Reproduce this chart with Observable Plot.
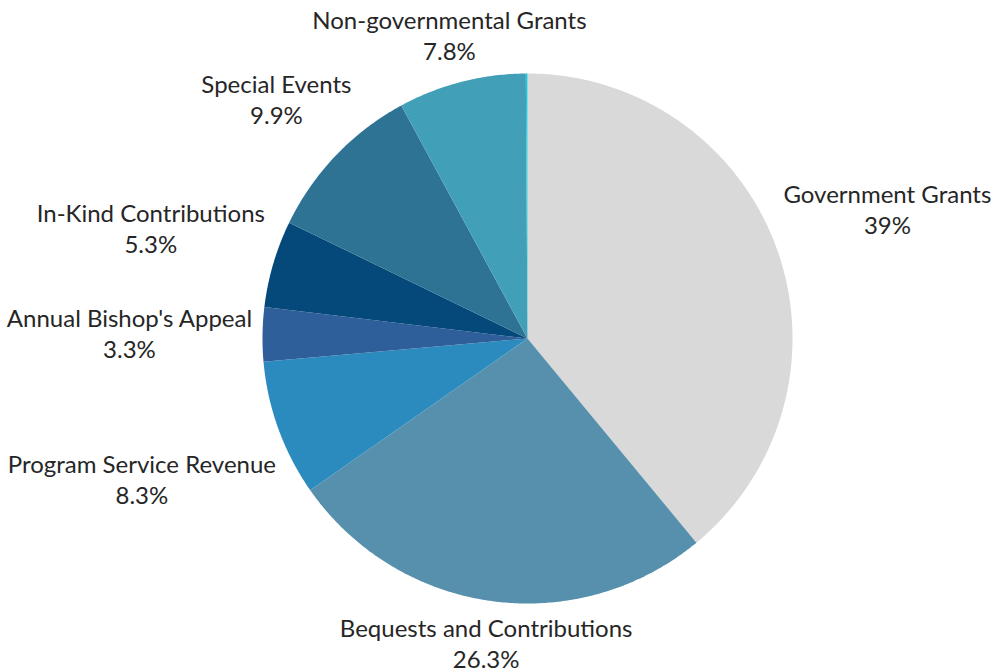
<!DOCTYPE html>
<html>
<head>
<meta charset="utf-8">
<script src="https://cdn.jsdelivr.net/npm/d3@7"></script>
<script src="https://cdn.jsdelivr.net/npm/@observablehq/plot@0.6"></script>
<style>
  html, body { margin: 0; padding: 0; background: #fff; }
  #chart { width: 991px; height: 671px; }
</style>
</head>
<body>
<div id="chart"></div>
<script>
// ---- data ----
const categories = [
  "Government Grants",
  "Bequests and Contributions",
  "Program Service Revenue",
  "Annual Bishop's Appeal",
  "In-Kind Contributions",
  "Special Events",
  "Non-governmental Grants",
  "Other"
];
const values = [39, 26.3, 8.3, 3.3, 5.3, 9.9, 7.8, 0.1];
const colors = ["#d9d9d9", "#5790ad", "#2b8bbe", "#2e5f9a", "#04497a", "#2f7394", "#429fb8", "#1fc7d8"];

// ---- layout ----
const W = 991, H = 671;
const cx = 527, cy = 338, R = 265, pad = 10;
const fontSize = 24, lineH = 31, halfBox = 29;
const fontFamily = "Lato";

const total = d3.sum(values);
const canvas = document.createElement("canvas");
const ctx = canvas.getContext("2d");
ctx.font = `${fontSize}px ${fontFamily}`;

let acc = 0;
const slices = categories.map((name, i) => {
  const a0 = acc / total * 2 * Math.PI;
  acc += values[i];
  const a1 = acc / total * 2 * Math.PI;
  return {name, value: values[i], a0, a1, color: colors[i]};
});

// polygon for each slice (angles clockwise from 12 o'clock)
const features = slices.map(s => {
  const ring = [[cx, cy]];
  const n = Math.max(2, Math.ceil((s.a1 - s.a0) / (Math.PI / 360)));
  for (let k = 0; k <= n; k++) {
    const a = s.a0 + (s.a1 - s.a0) * k / n;
    ring.push([cx + R * Math.sin(a), cy - R * Math.cos(a)]);
  }
  ring.push([cx, cy]);
  return {type: "Feature", properties: {name: s.name}, geometry: {type: "Polygon", coordinates: [ring]}};
});

// label placement: box centered on mid-angle ray, pushed out until its nearest point clears R + pad
const fmt = v => `${v}%`;
const labels = slices.filter(s => s.value >= 1).map(s => {
  const text = `${s.name}\n${fmt(s.value)}`;
  const w = Math.max(ctx.measureText(s.name).width, ctx.measureText(fmt(s.value)).width);
  const a = w / 2, b = halfBox;
  const m = (s.a0 + s.a1) / 2;
  const ux = Math.sin(m), uy = -Math.cos(m);
  const near = d => {
    const px = d * ux, py = d * uy;
    const nx = Math.max(px - a, Math.min(0, px + a));
    const ny = Math.max(py - b, Math.min(0, py + b));
    return Math.hypot(nx, ny);
  };
  let lo = 0, hi = 1000;
  for (let k = 0; k < 60; k++) {
    const mid = (lo + hi) / 2;
    if (near(mid) < R + pad) lo = mid; else hi = mid;
  }
  return {text, x: cx + hi * ux, y: cy + hi * uy};
});

const chart = Plot.plot({
  width: W,
  height: H,
  margin: 0,
  projection: {type: "identity"},
  color: {domain: categories, range: colors},
  style: {fontFamily: fontFamily, background: "#fff"},
  marks: [
    Plot.geo(features, {fill: d => d.properties.name, stroke: "none"}),
    Plot.text(labels, {
      x: "x", y: "y", text: "text",
      fontSize: fontSize, lineHeight: lineH / fontSize,
      fill: "#262626", textAnchor: "middle"
    })
  ]
});
document.getElementById("chart").appendChild(chart);
</script>
</body>
</html>
